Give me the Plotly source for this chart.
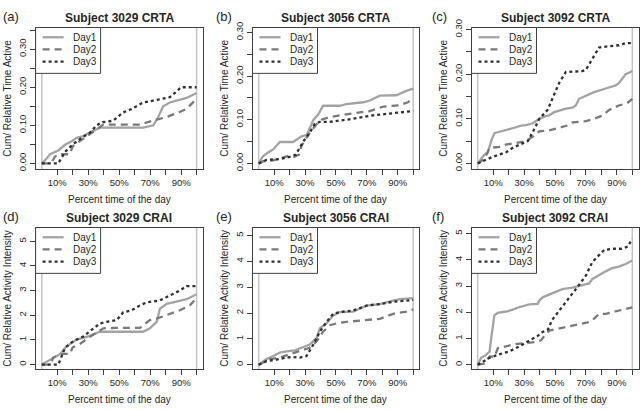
import plotly.graph_objects as go

FONT = "Liberation Sans, Arial, Helvetica, sans-serif"
W, H = 640, 410

# ---------------- data (percent of day vs cumulative relative value) ----------------
# (a) Subject 3029 CRTA
a1_x = [0, 3, 5.3, 10.7, 15, 19.3, 22.5, 26.8, 30, 34.4, 37.6, 65.5, 72, 75, 78.4, 82.7, 90, 93.5, 100]
a1_y = [0, 0.012, 0.024, 0.034, 0.049, 0.058, 0.067, 0.072, 0.079, 0.088, 0.094, 0.094, 0.100, 0.120, 0.150, 0.160, 0.169, 0.172, 0.185]
a2_x = [0, 6, 8.5, 11, 18, 20, 25, 30, 35, 39.7, 63.4, 68, 74, 80.6, 89, 93.5, 100]
a2_y = [0, 0, 0.018, 0.024, 0.024, 0.045, 0.060, 0.073, 0.088, 0.102, 0.102, 0.108, 0.114, 0.122, 0.135, 0.143, 0.170]
a3_x = [0, 10.6, 15, 20, 26.8, 31, 35.4, 38.7, 46, 52.6, 58, 65.5, 72, 82.7, 86, 90, 100]
a3_y = [0, 0, 0.030, 0.050, 0.070, 0.080, 0.100, 0.108, 0.112, 0.134, 0.143, 0.160, 0.165, 0.174, 0.185, 0.200, 0.200]

# (b) Subject 3056 CRTA
b1_x = [0, 2.9, 6.1, 9.4, 13.7, 22.3, 27.7, 31, 34, 35.3, 38.5, 41.7, 52.6, 56.8, 67.6, 72, 78.4, 89, 95.5, 100]
b1_y = [0, 0.017, 0.025, 0.032, 0.049, 0.049, 0.062, 0.065, 0.088, 0.099, 0.112, 0.132, 0.132, 0.136, 0.140, 0.144, 0.155, 0.156, 0.166, 0.171]
b2_x = [0, 2.9, 9.4, 13.7, 20, 23, 26, 27.7, 32, 35.3, 37.5, 40.7, 45, 52.6, 63, 72, 80.6, 91, 96.6, 100]
b2_y = [0, 0.005, 0.007, 0.012, 0.018, 0.015, 0.020, 0.040, 0.065, 0.080, 0.090, 0.100, 0.105, 0.110, 0.115, 0.120, 0.130, 0.133, 0.140, 0.150]
b3_x = [0, 5, 13.7, 20, 24, 28.8, 33, 36.2, 39.4, 45.8, 56.6, 65, 74, 87, 100]
b3_y = [0, 0.008, 0.010, 0.015, 0.020, 0.050, 0.070, 0.090, 0.095, 0.095, 0.100, 0.105, 0.110, 0.115, 0.120]

# (c) Subject 3092 CRTA
c1_x = [0, 2.3, 4.4, 6.6, 8.7, 10.8, 15.1, 19.5, 23.7, 28, 31.3, 35.6, 39.8, 43, 46.3, 49.5, 52.6, 57, 61.3, 63.4, 65.6, 68.8, 75.3, 82.8, 89.2, 91.3, 95.7, 98.9, 100]
c1_y = [0, 0.010, 0.020, 0.025, 0.050, 0.068, 0.072, 0.075, 0.080, 0.085, 0.086, 0.090, 0.100, 0.105, 0.108, 0.115, 0.118, 0.123, 0.125, 0.130, 0.145, 0.150, 0.160, 0.168, 0.175, 0.180, 0.200, 0.205, 0.208]
c2_x = [0, 4.4, 7.7, 14, 18, 25.6, 31.3, 35.6, 39.8, 46.3, 52.6, 57.9, 61.3, 70, 75.3, 80.6, 85, 91.3, 96.7, 100]
c2_y = [0, 0.010, 0.035, 0.037, 0.042, 0.046, 0.050, 0.060, 0.072, 0.074, 0.080, 0.085, 0.092, 0.095, 0.100, 0.107, 0.120, 0.130, 0.135, 0.145]
c3_x = [0, 9.8, 18.4, 22.7, 29, 32.4, 35.6, 39.8, 45.2, 49.5, 52.6, 57, 67.7, 70, 75.3, 78.5, 85, 91.3, 95.7, 100]
c3_y = [0, 0.015, 0.025, 0.035, 0.045, 0.050, 0.070, 0.100, 0.120, 0.155, 0.180, 0.205, 0.207, 0.210, 0.240, 0.260, 0.263, 0.265, 0.270, 0.270]

# (d) Subject 3029 CRAI
d1_x = [0, 7.4, 11.7, 16, 22.5, 30, 37.6, 39.8, 65.5, 69.8, 74.2, 76.3, 80.6, 84.9, 93.5, 100]
d1_y = [0, 0.28, 0.42, 0.74, 1.01, 1.14, 1.33, 1.33, 1.33, 1.47, 1.73, 2.26, 2.46, 2.52, 2.65, 2.85]
d2_x = [0, 5.3, 7.4, 9.5, 13.7, 18, 20, 24.4, 30, 35.3, 39.8, 48.4, 63.4, 65.5, 69.8, 74.2, 80.6, 89.2, 95.7, 100]
d2_y = [0, 0, 0.28, 0.35, 0.43, 0.43, 0.70, 0.82, 1.08, 1.28, 1.47, 1.49, 1.49, 1.60, 1.80, 1.86, 2.00, 2.20, 2.40, 2.70]
d3_x = [0, 10.7, 15, 20.4, 26.8, 33.3, 37.6, 41.9, 48.4, 52.6, 58, 63.4, 67.7, 76.3, 82.7, 89.2, 93.5, 100]
d3_y = [0, 0, 0.68, 0.95, 1.14, 1.47, 1.67, 1.73, 1.80, 2.12, 2.20, 2.40, 2.52, 2.60, 2.80, 3.00, 3.18, 3.18]

# (e) Subject 3056 CRAI
e1_x = [0, 5, 9.4, 13.7, 18, 23.4, 27.7, 33, 37.4, 39.6, 43.9, 48.2, 52.6, 61.2, 69.8, 78.4, 87, 91.3, 100]
e1_y = [0, 0.22, 0.34, 0.47, 0.52, 0.56, 0.66, 0.78, 1.03, 1.41, 1.60, 1.91, 2.04, 2.06, 2.29, 2.35, 2.48, 2.54, 2.58]
e2_x = [0, 7.3, 13.7, 20.1, 26.6, 33, 37.4, 41.7, 46, 50.3, 56.8, 69.8, 78.4, 87, 95.7, 100]
e2_y = [0, 0.22, 0.28, 0.40, 0.53, 0.66, 0.90, 1.28, 1.53, 1.60, 1.66, 1.72, 1.78, 1.97, 2.06, 2.14]
e3_x = [0, 5, 11.5, 18, 22.3, 26.6, 31, 35.3, 39.6, 43.9, 48.2, 52.6, 61.2, 69.8, 78.4, 87, 95.7, 100]
e3_y = [0, 0.14, 0.20, 0.28, 0.30, 0.28, 0.34, 0.78, 1.28, 1.66, 1.97, 2.04, 2.10, 2.29, 2.35, 2.44, 2.48, 2.51]

# (f) Subject 3092 CRAI
f1_x = [0, 2.3, 4.4, 6.6, 7.7, 8.7, 10.8, 13, 18.4, 22.7, 27, 33.4, 38.8, 39.8, 42, 48.4, 52.6, 54.8, 61.3, 65.6, 72, 74.2, 78.5, 82.8, 87, 91.3, 95.7, 100]
f1_y = [0, 0.27, 0.33, 0.46, 0.50, 1.00, 1.88, 1.98, 2.03, 2.10, 2.20, 2.30, 2.32, 2.44, 2.57, 2.73, 2.82, 2.88, 2.94, 3.00, 3.10, 3.27, 3.43, 3.56, 3.68, 3.74, 3.84, 3.97]
f2_x = [0, 4.4, 7.7, 10.8, 13, 18.4, 23.7, 29.1, 37.6, 40.9, 43.1, 46.3, 50.6, 57, 61.3, 65.6, 72, 75.3, 78.5, 82.8, 87, 93.5, 100]
f2_y = [0, 0.05, 0.32, 0.30, 0.63, 0.70, 0.78, 0.82, 0.87, 0.93, 1.10, 1.30, 1.36, 1.43, 1.50, 1.57, 1.63, 1.76, 1.94, 1.94, 2.00, 2.12, 2.19]
f3_x = [0, 7.7, 14, 20, 27, 33.4, 38.8, 42, 45.5, 48, 52, 56, 60, 65, 70, 74, 78, 82, 88, 93, 97, 100]
f3_y = [0, 0.27, 0.40, 0.50, 0.70, 0.90, 1.10, 1.25, 1.35, 1.70, 2.00, 2.30, 2.60, 3.00, 3.40, 3.90, 4.15, 4.38, 4.42, 4.42, 4.50, 4.80]

titles = ["Subject 3029 CRTA", "Subject 3056 CRTA", "Subject 3092 CRTA",
          "Subject 3029 CRAI", "Subject 3056 CRAI", "Subject 3092 CRAI"]
tags = ["(a)", "(b)", "(c)", "(d)", "(e)", "(f)"]
ylabels = ["Cum/ Relative Time Active"] * 3 + ["Cum/ Relative Activity Intensity"] * 3
xlabel = "Percent time of the day"
day_names = ["Day1", "Day2", "Day3"]
x_tickvals = [10, 20, 30, 40, 50, 60, 70, 80, 90, 100]
x_ticktext = ["10%", "", "30%", "", "50%", "", "70%", "", "90%", ""]
yt_a = [0, 0.05, 0.10, 0.15, 0.20, 0.25, 0.30, 0.35]
yt_a_text = ["0.00", "", "0.10", "", "0.20", "", "0.30", ""]
yt_bc = [0, 0.05, 0.10, 0.15, 0.20, 0.25, 0.30]
yt_bc_text = ["0.00", "", "0.10", "", "0.20", "", "0.30"]
yt_int = [0, 1, 2, 3, 4, 5]
yt_int_text = ["0", "1", "2", "3", "4", "5"]

series = [
    [(a1_x, a1_y), (a2_x, a2_y), (a3_x, a3_y)],
    [(b1_x, b1_y), (b2_x, b2_y), (b3_x, b3_y)],
    [(c1_x, c1_y), (c2_x, c2_y), (c3_x, c3_y)],
    [(d1_x, d1_y), (d2_x, d2_y), (d3_x, d3_y)],
    [(e1_x, e1_y), (e2_x, e2_y), (e3_x, e3_y)],
    [(f1_x, f1_y), (f2_x, f2_y), (f3_x, f3_y)],
]
yticks = [(yt_a, yt_a_text), (yt_bc, yt_bc_text), (yt_bc, yt_bc_text),
          (yt_int, yt_int_text), (yt_int, yt_int_text), (yt_int, yt_int_text)]

# ---------------- layout geometry (pixels) ----------------
col_px = [(35.6, 202.8), (252.5, 419.4), (471.5, 638.5)]
row_px = [(20, 165), (225, 370)]
yranges = [[-0.0146, 0.3569], [-0.0127, 0.3111], [-0.0124, 0.3048],
           [-0.178, 5.553], [-0.162, 5.31], [-0.16, 5.23]]
tag_x = [1, 214, 430]
LEG_W, LEG_H = 65, 47
LEG_ROWS = [10, 22.5, 35]

styles = [dict(color="#a3a3a3", width=2.3, dash="solid"),
          dict(color="#7a7a7a", width=2.3, dash="7px,5px"),
          dict(color="#303030", width=2.3, dash="3px,3px")]

TXT = "#262626"
AX = "#404040"

def px2x(p):
    return p / W

def px2y(p):
    return 1 - p / H

fig = go.Figure()
layout = dict(width=W, height=H, margin=dict(l=0, r=0, t=0, b=0),
              paper_bgcolor="white", plot_bgcolor="white",
              font=dict(family=FONT, color=TXT, size=10),
              showlegend=False)
annotations = []
shapes = []

for i in range(6):
    r, c = divmod(i, 3)
    n = "" if i == 0 else str(i + 1)
    xa, ya = "x" + n, "y" + n
    x0, x1 = col_px[c]
    y0, y1 = row_px[r]
    for k, (xs, ys) in enumerate(series[i]):
        fig.add_trace(go.Scatter(x=xs, y=ys, mode="lines", name=day_names[k],
                                 line=styles[k], xaxis=xa, yaxis=ya,
                                 hoverinfo="skip", showlegend=False))
    tv, tt = yticks[i]
    layout["xaxis" + n] = dict(domain=[px2x(x0), px2x(x1)], anchor=ya, range=[-4, 104],
                               tickvals=x_tickvals, ticktext=x_ticktext, ticks="outside",
                               ticklen=5, tickwidth=1, tickcolor=AX, showline=True,
                               linecolor=AX, linewidth=1, mirror=True, showgrid=False,
                               zeroline=False, tickfont=dict(size=9.5, color=TXT))
    layout["yaxis" + n] = dict(domain=[px2y(y1), px2y(y0)], anchor=xa, range=yranges[i],
                               tickvals=tv, ticktext=tt, ticks="outside", ticklen=5,
                               tickwidth=1, tickcolor=AX, showline=True, linecolor=AX,
                               linewidth=1, mirror=True, showgrid=False, zeroline=False,
                               tickangle=-90, tickfont=dict(size=9.5, color=TXT))
    for xv in (0, 100):
        shapes.append(dict(type="line", xref=xa, yref=ya + " domain", x0=xv, x1=xv,
                           y0=0, y1=1, line=dict(color="#c4c4c4", width=1.5), layer="below"))
    # legend box (drawn over the plot area, like R's legend)
    shapes.append(dict(type="rect", xref="paper", yref="paper",
                       x0=px2x(x0), x1=px2x(x0 + LEG_W), y0=px2y(y0 + LEG_H), y1=px2y(y0),
                       fillcolor="white", line=dict(color=AX, width=1), layer="above"))
    for k in range(3):
        ly = y0 + LEG_ROWS[k]
        shapes.append(dict(type="line", xref="paper", yref="paper",
                           x0=px2x(x0 + 7), x1=px2x(x0 + 28), y0=px2y(ly), y1=px2y(ly),
                           line=styles[k], layer="above"))
        annotations.append(dict(text=day_names[k], x=px2x(x0 + 35), y=px2y(ly),
                                xref="paper", yref="paper", showarrow=False,
                                xanchor="left", yanchor="middle",
                                font=dict(size=10, color=TXT)))
    cx = (x0 + x1) / 2
    annotations.append(dict(text="<b>" + titles[i] + "</b>", x=px2x(cx), y=px2y(y0 - 10),
                            xref="paper", yref="paper", showarrow=False,
                            xanchor="center", yanchor="middle", font=dict(size=12, color=TXT)))
    annotations.append(dict(text=tags[i], x=px2x(tag_x[c]), y=px2y(y0 - 11),
                            xref="paper", yref="paper", showarrow=False,
                            xanchor="left", yanchor="middle", font=dict(size=13, color=TXT)))
    annotations.append(dict(text=xlabel, x=px2x(cx), y=px2y(y1 + 31),
                            xref="paper", yref="paper", showarrow=False,
                            xanchor="center", yanchor="middle", font=dict(size=10, color=TXT)))
    annotations.append(dict(text=ylabels[i], x=px2x(x0 - 28), y=px2y((y0 + y1) / 2),
                            xref="paper", yref="paper", showarrow=False, textangle=-90,
                            xanchor="center", yanchor="middle", font=dict(size=10, color=TXT)))

layout["annotations"] = annotations
layout["shapes"] = shapes
fig.update_layout(**layout)
fig.write_html("out.html", config={"displayModeBar": False, "staticPlot": True},
               post_script="document.body.style.margin='0';")
